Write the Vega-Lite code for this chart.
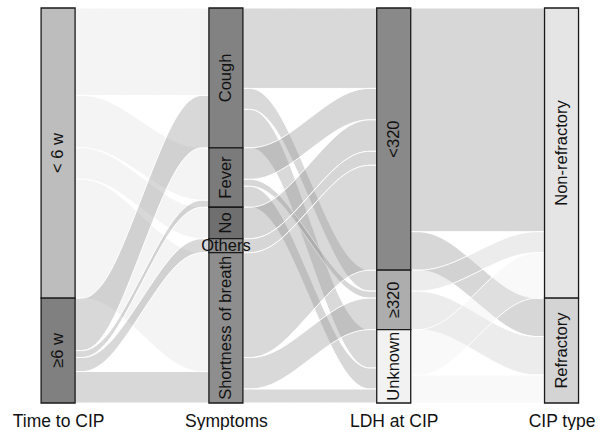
{
  "$schema": "https://vega.github.io/schema/vega-lite/v6.json",
  "width": 598,
  "height": 395,
  "autosize": {"type": "none"},
  "padding": {"top": 8, "left": 0, "right": 0, "bottom": 27},
  "config": {"view": {"stroke": null}, "font": "Liberation Sans"},
  "datasets": {
    "flows": [
      {"f": "f1", "src": "< 6 w", "pos": 1.1, "top": 0, "bot": 25}, {"f": "f1", "src": "< 6 w", "pos": 1.3, "top": 0, "bot": 25}, {"f": "f1", "src": "< 6 w", "pos": 1.7, "top": 0, "bot": 25}, {"f": "f1", "src": "< 6 w", "pos": 1.9, "top": 0, "bot": 25},
      {"f": "f2", "src": "< 6 w", "pos": 1.1, "top": 25, "bot": 40}, {"f": "f2", "src": "< 6 w", "pos": 1.3, "top": 25, "bot": 40}, {"f": "f2", "src": "< 6 w", "pos": 1.7, "top": 40, "bot": 55}, {"f": "f2", "src": "< 6 w", "pos": 1.9, "top": 40, "bot": 55},
      {"f": "f3", "src": "< 6 w", "pos": 1.1, "top": 40, "bot": 49}, {"f": "f3", "src": "< 6 w", "pos": 1.3, "top": 40, "bot": 49}, {"f": "f3", "src": "< 6 w", "pos": 1.7, "top": 57, "bot": 66}, {"f": "f3", "src": "< 6 w", "pos": 1.9, "top": 57, "bot": 66},
      {"f": "f4", "src": "< 6 w", "pos": 1.1, "top": 49, "bot": 83}, {"f": "f4", "src": "< 6 w", "pos": 1.3, "top": 49, "bot": 83}, {"f": "f4", "src": "< 6 w", "pos": 1.7, "top": 70, "bot": 104}, {"f": "f4", "src": "< 6 w", "pos": 1.9, "top": 70, "bot": 104},
      {"f": "f5", "src": "≥6 w", "pos": 1.1, "top": 83, "bot": 98}, {"f": "f5", "src": "≥6 w", "pos": 1.3, "top": 83, "bot": 98}, {"f": "f5", "src": "≥6 w", "pos": 1.7, "top": 25, "bot": 40}, {"f": "f5", "src": "≥6 w", "pos": 1.9, "top": 25, "bot": 40},
      {"f": "f6", "src": "≥6 w", "pos": 1.1, "top": 98, "bot": 100}, {"f": "f6", "src": "≥6 w", "pos": 1.3, "top": 98, "bot": 100}, {"f": "f6", "src": "≥6 w", "pos": 1.7, "top": 55, "bot": 57}, {"f": "f6", "src": "≥6 w", "pos": 1.9, "top": 55, "bot": 57},
      {"f": "f7", "src": "≥6 w", "pos": 1.1, "top": 100, "bot": 104}, {"f": "f7", "src": "≥6 w", "pos": 1.3, "top": 100, "bot": 104}, {"f": "f7", "src": "≥6 w", "pos": 1.7, "top": 66, "bot": 70}, {"f": "f7", "src": "≥6 w", "pos": 1.9, "top": 66, "bot": 70},
      {"f": "f8", "src": "≥6 w", "pos": 1.1, "top": 104, "bot": 113}, {"f": "f8", "src": "≥6 w", "pos": 1.3, "top": 104, "bot": 113}, {"f": "f8", "src": "≥6 w", "pos": 1.7, "top": 104, "bot": 113}, {"f": "f8", "src": "≥6 w", "pos": 1.9, "top": 104, "bot": 113},
      {"f": "g1", "src": "Cough", "pos": 2.1, "top": 0, "bot": 23}, {"f": "g1", "src": "Cough", "pos": 2.3, "top": 0, "bot": 23}, {"f": "g1", "src": "Cough", "pos": 2.7, "top": 0, "bot": 23}, {"f": "g1", "src": "Cough", "pos": 2.9, "top": 0, "bot": 23},
      {"f": "g2", "src": "Cough", "pos": 2.1, "top": 23, "bot": 29}, {"f": "g2", "src": "Cough", "pos": 2.3, "top": 23, "bot": 29}, {"f": "g2", "src": "Cough", "pos": 2.7, "top": 75, "bot": 81}, {"f": "g2", "src": "Cough", "pos": 2.9, "top": 75, "bot": 81},
      {"f": "g3", "src": "Cough", "pos": 2.1, "top": 29, "bot": 40}, {"f": "g3", "src": "Cough", "pos": 2.3, "top": 29, "bot": 40}, {"f": "g3", "src": "Cough", "pos": 2.7, "top": 92, "bot": 103}, {"f": "g3", "src": "Cough", "pos": 2.9, "top": 92, "bot": 103},
      {"f": "g4", "src": "Fever", "pos": 2.1, "top": 40, "bot": 49}, {"f": "g4", "src": "Fever", "pos": 2.3, "top": 40, "bot": 49}, {"f": "g4", "src": "Fever", "pos": 2.7, "top": 23, "bot": 32}, {"f": "g4", "src": "Fever", "pos": 2.9, "top": 23, "bot": 32},
      {"f": "g5", "src": "Fever", "pos": 2.1, "top": 49, "bot": 51}, {"f": "g5", "src": "Fever", "pos": 2.3, "top": 49, "bot": 51}, {"f": "g5", "src": "Fever", "pos": 2.7, "top": 81, "bot": 83}, {"f": "g5", "src": "Fever", "pos": 2.9, "top": 81, "bot": 83},
      {"f": "g6", "src": "Fever", "pos": 2.1, "top": 51, "bot": 57}, {"f": "g6", "src": "Fever", "pos": 2.3, "top": 51, "bot": 57}, {"f": "g6", "src": "Fever", "pos": 2.7, "top": 103, "bot": 109}, {"f": "g6", "src": "Fever", "pos": 2.9, "top": 103, "bot": 109},
      {"f": "g7", "src": "No", "pos": 2.1, "top": 57, "bot": 66}, {"f": "g7", "src": "No", "pos": 2.3, "top": 57, "bot": 66}, {"f": "g7", "src": "No", "pos": 2.7, "top": 32, "bot": 41}, {"f": "g7", "src": "No", "pos": 2.9, "top": 32, "bot": 41},
      {"f": "g8", "src": "Others", "pos": 2.1, "top": 66, "bot": 70}, {"f": "g8", "src": "Others", "pos": 2.3, "top": 66, "bot": 70}, {"f": "g8", "src": "Others", "pos": 2.7, "top": 41, "bot": 45}, {"f": "g8", "src": "Others", "pos": 2.9, "top": 41, "bot": 45},
      {"f": "g9", "src": "Shortness of breath", "pos": 2.1, "top": 70, "bot": 100}, {"f": "g9", "src": "Shortness of breath", "pos": 2.3, "top": 70, "bot": 100}, {"f": "g9", "src": "Shortness of breath", "pos": 2.7, "top": 45, "bot": 75}, {"f": "g9", "src": "Shortness of breath", "pos": 2.9, "top": 45, "bot": 75},
      {"f": "g10", "src": "Shortness of breath", "pos": 2.1, "top": 100, "bot": 109}, {"f": "g10", "src": "Shortness of breath", "pos": 2.3, "top": 100, "bot": 109}, {"f": "g10", "src": "Shortness of breath", "pos": 2.7, "top": 83, "bot": 92}, {"f": "g10", "src": "Shortness of breath", "pos": 2.9, "top": 83, "bot": 92},
      {"f": "g11", "src": "Shortness of breath", "pos": 2.1, "top": 109, "bot": 113}, {"f": "g11", "src": "Shortness of breath", "pos": 2.3, "top": 109, "bot": 113}, {"f": "g11", "src": "Shortness of breath", "pos": 2.7, "top": 109, "bot": 113}, {"f": "g11", "src": "Shortness of breath", "pos": 2.9, "top": 109, "bot": 113},
      {"f": "h1", "src": "<320", "pos": 3.1, "top": 0, "bot": 64}, {"f": "h1", "src": "<320", "pos": 3.3, "top": 0, "bot": 64}, {"f": "h1", "src": "<320", "pos": 3.7, "top": 0, "bot": 64}, {"f": "h1", "src": "<320", "pos": 3.9, "top": 0, "bot": 64},
      {"f": "h2", "src": "<320", "pos": 3.1, "top": 64, "bot": 75}, {"f": "h2", "src": "<320", "pos": 3.3, "top": 64, "bot": 75}, {"f": "h2", "src": "<320", "pos": 3.7, "top": 83, "bot": 94}, {"f": "h2", "src": "<320", "pos": 3.9, "top": 83, "bot": 94},
      {"f": "h3", "src": "≥320", "pos": 3.1, "top": 75, "bot": 81}, {"f": "h3", "src": "≥320", "pos": 3.3, "top": 75, "bot": 81}, {"f": "h3", "src": "≥320", "pos": 3.7, "top": 64, "bot": 70}, {"f": "h3", "src": "≥320", "pos": 3.9, "top": 64, "bot": 70},
      {"f": "h4", "src": "≥320", "pos": 3.1, "top": 81, "bot": 92}, {"f": "h4", "src": "≥320", "pos": 3.3, "top": 81, "bot": 92}, {"f": "h4", "src": "≥320", "pos": 3.7, "top": 94, "bot": 105}, {"f": "h4", "src": "≥320", "pos": 3.9, "top": 94, "bot": 105},
      {"f": "h5", "src": "Unknown", "pos": 3.1, "top": 92, "bot": 105}, {"f": "h5", "src": "Unknown", "pos": 3.3, "top": 92, "bot": 105}, {"f": "h5", "src": "Unknown", "pos": 3.7, "top": 70, "bot": 83}, {"f": "h5", "src": "Unknown", "pos": 3.9, "top": 70, "bot": 83},
      {"f": "h6", "src": "Unknown", "pos": 3.1, "top": 105, "bot": 113}, {"f": "h6", "src": "Unknown", "pos": 3.3, "top": 105, "bot": 113}, {"f": "h6", "src": "Unknown", "pos": 3.7, "top": 105, "bot": 113}, {"f": "h6", "src": "Unknown", "pos": 3.9, "top": 105, "bot": 113}
    ],
    "strata": [
      {"pos": 1, "s": "< 6 w", "top": 0, "bot": 83},
      {"pos": 1, "s": "≥6 w", "top": 83, "bot": 113},
      {"pos": 2, "s": "Cough", "top": 0, "bot": 40},
      {"pos": 2, "s": "Fever", "top": 40, "bot": 57},
      {"pos": 2, "s": "No", "top": 57, "bot": 66},
      {"pos": 2, "s": "Others", "top": 66, "bot": 70},
      {"pos": 2, "s": "Shortness of breath", "top": 70, "bot": 113},
      {"pos": 3, "s": "<320", "top": 0, "bot": 75},
      {"pos": 3, "s": "≥320", "top": 75, "bot": 92},
      {"pos": 3, "s": "Unknown", "top": 92, "bot": 113},
      {"pos": 4, "s": "Non-refractory", "top": 0, "bot": 83},
      {"pos": 4, "s": "Refractory", "top": 83, "bot": 113}
    ]
  },
  "layer": [
    {
      "data": {"name": "flows"},
      "mark": {"type": "area", "interpolate": "basis", "orient": "vertical", "fillOpacity": 0.35, "stroke": "white", "strokeWidth": 1},
      "encoding": {
        "x": {"field": "pos", "type": "quantitative", "scale": {"domain": [0.6836, 4.1875], "nice": false, "zero": false},
          "axis": {"values": [1, 2, 3, 4], "labelExpr": "datum.value == 1 ? 'Time to CIP' : datum.value == 2 ? 'Symptoms' : datum.value == 3 ? 'LDH at CIP' : 'CIP type'",
            "title": null, "grid": false, "ticks": false, "domain": false, "labelFontSize": 17.5, "labelColor": "#111111", "labelPadding": 9,
            "labelFlush": false, "labelOverlap": false, "labelBound": false, "labelFont": "Liberation Sans"}},
        "y": {"field": "top", "type": "quantitative", "stack": null, "scale": {"domain": [0, 113], "reverse": true, "nice": false, "zero": false}, "axis": null},
        "y2": {"field": "bot"},
        "fill": {"field": "src", "type": "nominal", "legend": null,
          "scale": {"domain": ["< 6 w", "≥6 w", "Cough", "Fever", "No", "Others", "Shortness of breath", "<320", "≥320", "Unknown"],
            "range": ["#e0e0e0", "#8f8f8f", "#929292", "#8c8c8c", "#8a8a8a", "#8a8a8a", "#929292", "#8c8c8c", "#c8c8c8", "#eeeeee"]}},
        "detail": {"field": "f", "type": "nominal"}
      }
    },
    {
      "data": {"name": "strata"},
      "mark": {"type": "bar", "width": 34, "stroke": "#1a1a1a", "strokeWidth": 1.3},
      "encoding": {
        "x": {"field": "pos", "type": "quantitative"},
        "y": {"field": "top", "type": "quantitative"},
        "y2": {"field": "bot"},
        "color": {"field": "s", "type": "nominal", "legend": null,
          "scale": {"domain": ["< 6 w", "≥6 w", "Cough", "Fever", "No", "Others", "Shortness of breath", "<320", "≥320", "Unknown", "Non-refractory", "Refractory"],
            "range": ["#bdbdbd", "#808080", "#828282", "#7b7b7b", "#6f6f6f", "#8c8c8c", "#8e8e8e", "#898989", "#adadad", "#f2f2f2", "#e5e5e5", "#d4d4d4"]}}
      }
    },
    {
      "data": {"name": "strata"},
      "transform": [{"calculate": "(datum.top + datum.bot) / 2", "as": "mid"}],
      "mark": {"type": "text", "fontSize": 16.5, "color": "#111111", "font": "Liberation Sans"},
      "encoding": {
        "x": {"field": "pos", "type": "quantitative"},
        "y": {"field": "mid", "type": "quantitative"},
        "text": {"field": "s"},
        "angle": {"condition": {"test": "datum.s === 'Others'", "value": 0}, "value": 270}
      }
    }
  ]
}
